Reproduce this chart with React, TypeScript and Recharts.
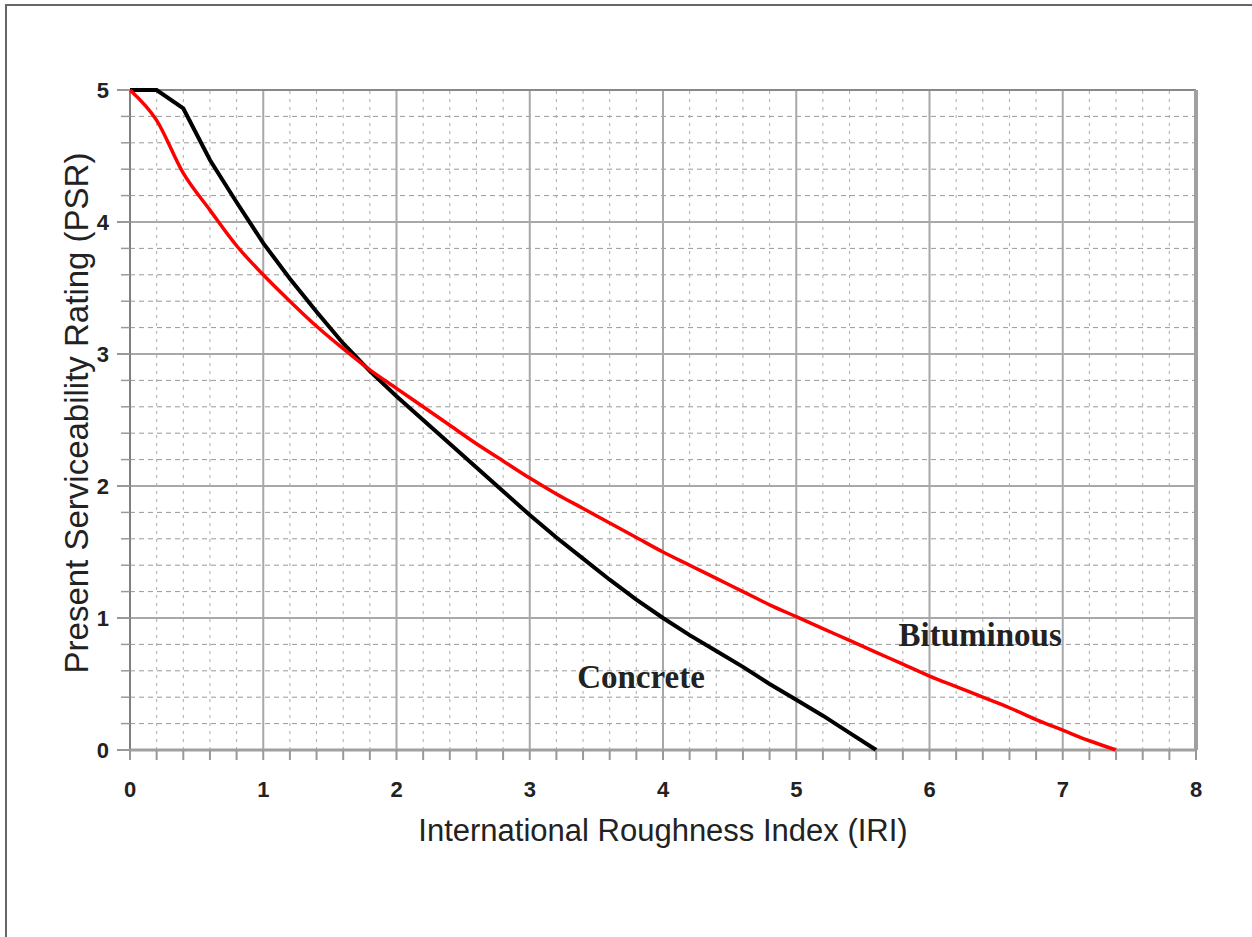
import React from "react";
import {
  LineChart,
  Line,
  XAxis,
  YAxis,
  ReferenceLine,
  ReferenceDot,
  Label,
} from "recharts";

// IRI values (x) and PSR values (y)
const concreteIri = [0, 0.2, 0.4, 0.6, 0.8, 1.0, 1.2, 1.4, 1.6, 1.8, 2.0, 2.2, 2.4, 2.6, 2.8, 3.0, 3.2, 3.4, 3.6, 3.8, 4.0, 4.2, 4.4, 4.6, 4.8, 5.0, 5.2, 5.4, 5.6];
const concretePsr = [5, 5, 4.86, 4.47, 4.15, 3.84, 3.57, 3.32, 3.08, 2.87, 2.68, 2.5, 2.32, 2.14, 1.96, 1.78, 1.61, 1.45, 1.29, 1.14, 1.0, 0.87, 0.75, 0.63, 0.5, 0.38, 0.26, 0.13, 0];

const bitumIri = [0, 0.2, 0.4, 0.6, 0.8, 1.0, 1.2, 1.4, 1.6, 1.8, 2.0, 2.2, 2.4, 2.6, 2.8, 3.0, 3.2, 3.4, 3.6, 3.8, 4.0, 4.2, 4.4, 4.6, 4.8, 5.0, 5.2, 5.4, 5.6, 5.8, 6.0, 6.2, 6.4, 6.6, 6.8, 7.0, 7.2, 7.4];
const bitumPsr = [5, 4.77, 4.37, 4.09, 3.82, 3.6, 3.4, 3.21, 3.04, 2.88, 2.74, 2.6, 2.46, 2.32, 2.19, 2.06, 1.94, 1.83, 1.72, 1.61, 1.5, 1.4, 1.3, 1.2, 1.1, 1.01, 0.92, 0.83, 0.74, 0.65, 0.56, 0.48, 0.4, 0.32, 0.23, 0.15, 0.07, 0];

const iriTicks = Array.from({ length: 41 }, (_, i) => i / 5);
const psrTicks = Array.from({ length: 26 }, (_, i) => i / 5);

const isMajor = (v: number) => Math.abs(v - Math.round(v)) < 1e-6;

const concrete = concreteIri.map((x, i) => ({ x, y: concretePsr[i] }));
const bituminous = bitumIri.map((x, i) => ({ x, y: bitumPsr[i] }));

const sans = "'Liberation Sans', Arial, sans-serif";
const serif = "'Liberation Serif', 'Times New Roman', serif";

function XTick(props: any) {
  const { x, y, payload } = props;
  const v = payload.value;
  return (
    <g>
      <line x1={x} y1={y} x2={x} y2={y + 10} stroke="#999" strokeWidth={2} />
      {isMajor(v) && (
        <text x={x} y={y + 39} textAnchor="middle" dominantBaseline="central" fontFamily={sans} fontSize={22} fontWeight="bold" fill="#222">
          {Math.round(v)}
        </text>
      )}
    </g>
  );
}

function YTick(props: any) {
  const { x, y, payload } = props;
  const v = payload.value;
  const major = isMajor(v);
  return (
    <g>
      <line x1={x - (major ? 13 : 9)} y1={y} x2={x} y2={y} stroke="#999" strokeWidth={major ? 2 : 1.5} />
      {major && (
        <text x={x - 21} y={y} textAnchor="end" dominantBaseline="central" fontFamily={sans} fontSize={22} fontWeight="bold" fill="#222">
          {Math.round(v)}
        </text>
      )}
    </g>
  );
}

export default function App() {
  const minorX = iriTicks.filter((v) => !isMajor(v));
  const minorY = psrTicks.filter((v) => !isMajor(v));
  const majorX = iriTicks.filter((v) => isMajor(v) && v > 0 && v < 8);
  const majorY = psrTicks.filter((v) => isMajor(v) && v > 0 && v < 5);

  return (
    <div style={{ position: "absolute", left: 0, top: 0, width: 1252, height: 937, overflow: "hidden", background: "#fff" }}>
      <div style={{ position: "absolute", left: 5, top: 4, right: 0, bottom: 0, borderLeft: "2px solid #666", borderTop: "2px solid #666" }} />
      <div style={{ position: "absolute", left: 0, top: 0 }}>
        <LineChart width={1252} height={937} margin={{ top: 90, right: 56, left: 0, bottom: 0 }}>
          <XAxis
            dataKey="x"
            type="number"
            domain={[0, 8]}
            ticks={iriTicks}
            interval={0}
            height={187}
            axisLine={false}
            tickLine={false}
            tickSize={0}
            tickMargin={0}
            tick={<XTick />}
            allowDuplicatedCategory={false}
          >
            <Label
              content={(p: any) => {
                const vb = p.viewBox;
                return (
                  <text x={vb.x + vb.width / 2} y={vb.y + 80} textAnchor="middle" dominantBaseline="central" fontFamily={sans} fontSize={31} fill="#222">
                    International Roughness Index (IRI)
                  </text>
                );
              }}
            />
          </XAxis>
          <YAxis
            dataKey="y"
            type="number"
            domain={[0, 5]}
            ticks={psrTicks}
            interval={0}
            width={130}
            axisLine={false}
            tickLine={false}
            tickSize={0}
            tickMargin={0}
            tick={<YTick />}
          >
            <Label
              content={(p: any) => {
                const vb = p.viewBox;
                const cx = vb.x + 76;
                const cy = vb.y + vb.height / 2 - 7;
                return (
                  <text x={cx} y={cy} transform={`rotate(-90, ${cx}, ${cy})`} textAnchor="middle" dominantBaseline="central" fontFamily={sans} fontSize={33} fill="#222">
                    Present Serviceability Rating (PSR)
                  </text>
                );
              }}
            />
          </YAxis>

          {minorY.map((v) => (
            <ReferenceLine key={"my" + v} y={v} stroke="#999" strokeWidth={1} strokeDasharray="5 4" zIndex={-50} />
          ))}
          {minorX.map((v) => (
            <ReferenceLine key={"mx" + v} x={v} stroke="#aaa" strokeWidth={1} strokeDasharray="3 5" zIndex={-50} />
          ))}
          {majorY.map((v) => (
            <ReferenceLine key={"My" + v} y={v} stroke="#a8a8a8" strokeWidth={2} zIndex={-40} />
          ))}
          {majorX.map((v) => (
            <ReferenceLine key={"Mx" + v} x={v} stroke="#a8a8a8" strokeWidth={2} zIndex={-40} />
          ))}
          <ReferenceLine y={5} stroke="#888" strokeWidth={2} zIndex={-30} />
          <ReferenceLine x={8} stroke="#a0a0a0" strokeWidth={4} zIndex={-30} />
          <ReferenceLine x={0} stroke="#808080" strokeWidth={2} zIndex={-30} />
          <ReferenceLine y={0} stroke="#a0a0a0" strokeWidth={3} zIndex={-30} />

          <Line data={concrete} dataKey="y" type="linear" stroke="#000" strokeWidth={4} dot={false} activeDot={false} isAnimationActive={false} />
          <Line data={bituminous} dataKey="y" type="monotone" stroke="#ff0000" strokeWidth={3.5} dot={false} activeDot={false} isAnimationActive={false} />

          <ReferenceDot x={3.835} y={0.56} r={0} fill="none" stroke="none">
            <Label value="Concrete" position="center" fontFamily={serif} fontSize={33} fontWeight="bold" fill="#222" />
          </ReferenceDot>
          <ReferenceDot x={6.38} y={0.88} r={0} fill="none" stroke="none">
            <Label value="Bituminous" position="center" fontFamily={serif} fontSize={33} fontWeight="bold" fill="#222" />
          </ReferenceDot>
        </LineChart>
      </div>
    </div>
  );
}
